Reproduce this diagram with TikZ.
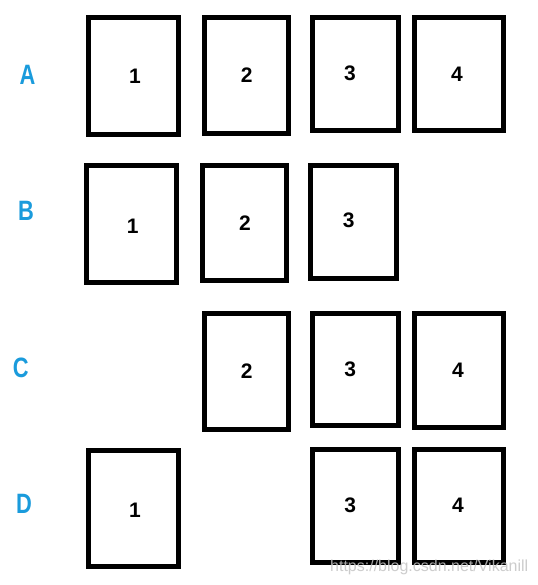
\documentclass[tikz,border=0pt]{standalone}
\usepackage{fontspec}
\usepackage{graphicx}
\setmainfont{Liberation Sans}
\definecolor{lblblue}{HTML}{1A9BDC}
\definecolor{wmgray}{HTML}{C4C4C4}
\newcommand{\mkcard}[5]{%
  \node[cardbox, minimum width={(#4-#2-5)*1pt}, minimum height={(#5-#3-5)*1pt}]
    (#1) at ({(#2+#4)/2},{(#3+#5)/2}) {};}
\begin{document}
\begin{tikzpicture}[x=1pt,y=-1pt,
  cardbox/.style={draw=black, line width=5pt, fill=white, inner sep=0pt, outer sep=0pt},
  numtext/.style={font=\bfseries\fontsize{21}{21}\selectfont, text=black, inner sep=0pt},
  rowlabel/.style={font=\bfseries\fontsize{28}{28}\selectfont, text=lblblue, inner sep=0pt},
  watermark/.style={font=\fontsize{16}{16}\selectfont, text=wmgray, inner sep=0pt, anchor=west}]
\fill[white] (0,0) rectangle (537,585);
\useasboundingbox (0,0) rectangle (537,585);
% row labels
\node[rowlabel] (la) at (27.5,75) {\scalebox{0.78}[1]{A}};
\node[rowlabel] (lb) at (26,210.5) {\scalebox{0.78}[1]{B}};
\node[rowlabel] (lc) at (20.7,368) {\scalebox{0.78}[1]{C}};
\node[rowlabel] (ld) at (24,503.5) {\scalebox{0.78}[1]{D}};
% row A
\mkcard{a1}{86}{15}{181}{137}
\mkcard{a2}{202}{15}{291}{136}
\mkcard{a3}{310}{15}{401}{133}
\mkcard{a4}{412}{15}{506}{133}
\node[numtext] (a1n) at (135,76) {1};
\node[numtext] (a2n) at (246.7,75) {2};
\node[numtext] (a3n) at (350,73) {3};
\node[numtext] (a4n) at (457,74) {4};
% row B
\mkcard{b1}{84}{163}{179}{285}
\mkcard{b2}{200}{163}{289}{283}
\mkcard{b3}{308}{163}{399}{281}
\node[numtext] (b1n) at (132.7,226) {1};
\node[numtext] (b2n) at (245,222.7) {2};
\node[numtext] (b3n) at (348.7,220.7) {3};
% row C
\mkcard{c2}{202}{311}{291}{432}
\mkcard{c3}{310}{311}{401}{428}
\mkcard{c4}{412}{311}{506}{430}
\node[numtext] (c2n) at (246.7,370.7) {2};
\node[numtext] (c3n) at (350.3,369.3) {3};
\node[numtext] (c4n) at (458,370) {4};
% row D
\mkcard{d1}{86}{448}{181}{569}
\mkcard{d3}{310}{447}{401}{565}
\mkcard{d4}{412}{447}{506}{565}
\node[numtext] (d1n) at (135,510) {1};
\node[numtext] (d3n) at (350.3,505) {3};
\node[numtext] (d4n) at (458,505.7) {4};
% watermark
\node[watermark, opacity=0.85] (wm) at (330,567) {https://blog.csdn.net/Vikanill};
\end{tikzpicture}
\end{document}
